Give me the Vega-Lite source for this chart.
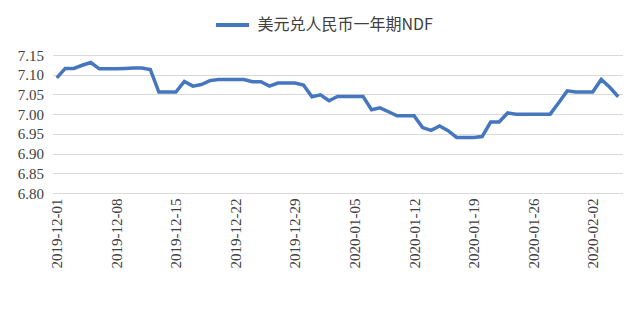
{
  "$schema": "https://vega.github.io/schema/vega-lite/v6.json",
  "width": 570,
  "height": 138,
  "autosize": {"type": "none"},
  "padding": {"left": 52.5, "top": 55, "right": 17.5, "bottom": 125},
  "background": "white",
  "config": {"view": {"stroke": null}},
  "data": {
    "values": [
      {"date": "2019-12-01", "value": 7.092, "series": "美元兑人民币一年期NDF"},
      {"date": "2019-12-02", "value": 7.116, "series": "美元兑人民币一年期NDF"},
      {"date": "2019-12-03", "value": 7.116, "series": "美元兑人民币一年期NDF"},
      {"date": "2019-12-04", "value": 7.124, "series": "美元兑人民币一年期NDF"},
      {"date": "2019-12-05", "value": 7.131, "series": "美元兑人民币一年期NDF"},
      {"date": "2019-12-06", "value": 7.115, "series": "美元兑人民币一年期NDF"},
      {"date": "2019-12-07", "value": 7.115, "series": "美元兑人民币一年期NDF"},
      {"date": "2019-12-08", "value": 7.115, "series": "美元兑人民币一年期NDF"},
      {"date": "2019-12-09", "value": 7.116, "series": "美元兑人民币一年期NDF"},
      {"date": "2019-12-10", "value": 7.117, "series": "美元兑人民币一年期NDF"},
      {"date": "2019-12-11", "value": 7.117, "series": "美元兑人民币一年期NDF"},
      {"date": "2019-12-12", "value": 7.113, "series": "美元兑人民币一年期NDF"},
      {"date": "2019-12-13", "value": 7.056, "series": "美元兑人民币一年期NDF"},
      {"date": "2019-12-14", "value": 7.056, "series": "美元兑人民币一年期NDF"},
      {"date": "2019-12-15", "value": 7.056, "series": "美元兑人民币一年期NDF"},
      {"date": "2019-12-16", "value": 7.083, "series": "美元兑人民币一年期NDF"},
      {"date": "2019-12-17", "value": 7.071, "series": "美元兑人民币一年期NDF"},
      {"date": "2019-12-18", "value": 7.075, "series": "美元兑人民币一年期NDF"},
      {"date": "2019-12-19", "value": 7.085, "series": "美元兑人民币一年期NDF"},
      {"date": "2019-12-20", "value": 7.088, "series": "美元兑人民币一年期NDF"},
      {"date": "2019-12-21", "value": 7.088, "series": "美元兑人民币一年期NDF"},
      {"date": "2019-12-22", "value": 7.088, "series": "美元兑人民币一年期NDF"},
      {"date": "2019-12-23", "value": 7.088, "series": "美元兑人民币一年期NDF"},
      {"date": "2019-12-24", "value": 7.082, "series": "美元兑人民币一年期NDF"},
      {"date": "2019-12-25", "value": 7.082, "series": "美元兑人民币一年期NDF"},
      {"date": "2019-12-26", "value": 7.071, "series": "美元兑人民币一年期NDF"},
      {"date": "2019-12-27", "value": 7.079, "series": "美元兑人民币一年期NDF"},
      {"date": "2019-12-28", "value": 7.079, "series": "美元兑人民币一年期NDF"},
      {"date": "2019-12-29", "value": 7.079, "series": "美元兑人民币一年期NDF"},
      {"date": "2019-12-30", "value": 7.074, "series": "美元兑人民币一年期NDF"},
      {"date": "2019-12-31", "value": 7.044, "series": "美元兑人民币一年期NDF"},
      {"date": "2020-01-01", "value": 7.049, "series": "美元兑人民币一年期NDF"},
      {"date": "2020-01-02", "value": 7.034, "series": "美元兑人民币一年期NDF"},
      {"date": "2020-01-03", "value": 7.045, "series": "美元兑人民币一年期NDF"},
      {"date": "2020-01-04", "value": 7.045, "series": "美元兑人民币一年期NDF"},
      {"date": "2020-01-05", "value": 7.045, "series": "美元兑人民币一年期NDF"},
      {"date": "2020-01-06", "value": 7.045, "series": "美元兑人民币一年期NDF"},
      {"date": "2020-01-07", "value": 7.011, "series": "美元兑人民币一年期NDF"},
      {"date": "2020-01-08", "value": 7.016, "series": "美元兑人民币一年期NDF"},
      {"date": "2020-01-09", "value": 7.006, "series": "美元兑人民币一年期NDF"},
      {"date": "2020-01-10", "value": 6.996, "series": "美元兑人民币一年期NDF"},
      {"date": "2020-01-11", "value": 6.996, "series": "美元兑人民币一年期NDF"},
      {"date": "2020-01-12", "value": 6.996, "series": "美元兑人民币一年期NDF"},
      {"date": "2020-01-13", "value": 6.966, "series": "美元兑人民币一年期NDF"},
      {"date": "2020-01-14", "value": 6.959, "series": "美元兑人民币一年期NDF"},
      {"date": "2020-01-15", "value": 6.970, "series": "美元兑人民币一年期NDF"},
      {"date": "2020-01-16", "value": 6.958, "series": "美元兑人民币一年期NDF"},
      {"date": "2020-01-17", "value": 6.941, "series": "美元兑人民币一年期NDF"},
      {"date": "2020-01-18", "value": 6.941, "series": "美元兑人民币一年期NDF"},
      {"date": "2020-01-19", "value": 6.941, "series": "美元兑人民币一年期NDF"},
      {"date": "2020-01-20", "value": 6.943, "series": "美元兑人民币一年期NDF"},
      {"date": "2020-01-21", "value": 6.980, "series": "美元兑人民币一年期NDF"},
      {"date": "2020-01-22", "value": 6.980, "series": "美元兑人民币一年期NDF"},
      {"date": "2020-01-23", "value": 7.003, "series": "美元兑人民币一年期NDF"},
      {"date": "2020-01-24", "value": 7.000, "series": "美元兑人民币一年期NDF"},
      {"date": "2020-01-25", "value": 7.000, "series": "美元兑人民币一年期NDF"},
      {"date": "2020-01-26", "value": 7.000, "series": "美元兑人民币一年期NDF"},
      {"date": "2020-01-27", "value": 7.000, "series": "美元兑人民币一年期NDF"},
      {"date": "2020-01-28", "value": 7.000, "series": "美元兑人民币一年期NDF"},
      {"date": "2020-01-29", "value": 7.029, "series": "美元兑人民币一年期NDF"},
      {"date": "2020-01-30", "value": 7.059, "series": "美元兑人民币一年期NDF"},
      {"date": "2020-01-31", "value": 7.056, "series": "美元兑人民币一年期NDF"},
      {"date": "2020-02-01", "value": 7.056, "series": "美元兑人民币一年期NDF"},
      {"date": "2020-02-02", "value": 7.056, "series": "美元兑人民币一年期NDF"},
      {"date": "2020-02-03", "value": 7.088, "series": "美元兑人民币一年期NDF"},
      {"date": "2020-02-04", "value": 7.068, "series": "美元兑人民币一年期NDF"},
      {"date": "2020-02-05", "value": 7.044, "series": "美元兑人民币一年期NDF"}
    ]
  },
  "mark": {"type": "line", "strokeWidth": 3.5, "strokeJoin": "miter", "clip": false},
  "encoding": {
    "x": {
      "field": "date",
      "type": "ordinal",
      "sort": null,
      "scale": {"type": "point", "padding": 0.5},
      "axis": {
        "title": null,
        "values": ["2019-12-01", "2019-12-08", "2019-12-15", "2019-12-22", "2019-12-29", "2020-01-05", "2020-01-12", "2020-01-19", "2020-01-26", "2020-02-02"],
        "labelAngle": -90,
        "labelFont": "Liberation Serif",
        "labelFontSize": 15,
        "labelColor": "#404040",
        "labelPadding": 5,
        "domain": false,
        "ticks": false,
        "grid": false
      }
    },
    "y": {
      "field": "value",
      "type": "quantitative",
      "scale": {"domain": [6.8, 7.15], "zero": false, "nice": false},
      "axis": {
        "title": null,
        "values": [6.8, 6.85, 6.9, 6.95, 7.0, 7.05, 7.1, 7.15],
        "format": ".2f",
        "labelFont": "Liberation Serif",
        "labelFontSize": 15,
        "labelColor": "#404040",
        "labelPadding": 9,
        "domain": false,
        "ticks": false,
        "grid": true,
        "gridColor": "#d9d9d9",
        "gridWidth": 1
      }
    },
    "color": {
      "field": "series",
      "type": "nominal",
      "scale": {"range": ["#4677be"]},
      "legend": {
        "title": null,
        "orient": "none",
        "legendX": 161,
        "legendY": -49,
        "symbolType": "stroke",
        "symbolStrokeWidth": 4,
        "symbolSize": 1100,
        "labelFont": "Noto Sans CJK SC",
        "labelFontSize": 16,
        "labelColor": "#404040",
        "labelOffset": 6,
        "labelLimit": 400
      }
    }
  }
}
